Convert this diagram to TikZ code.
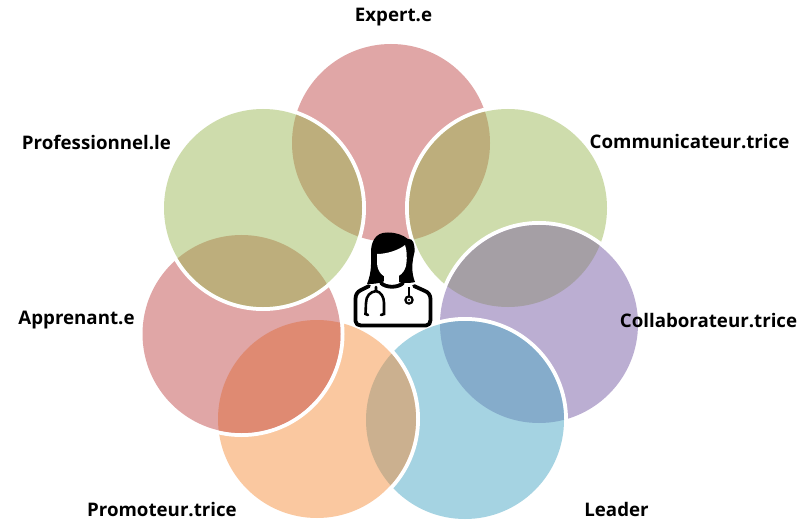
\documentclass[tikz,border=0pt]{standalone}
\usepackage{fontspec}
\setmainfont{Open Sans}
\definecolor{rosec}{HTML}{E0A6A6}
\definecolor{greenc}{HTML}{CEDCAC}
\definecolor{olivec}{HTML}{BDAE7C}
\definecolor{purplec}{HTML}{BBAED2}
\definecolor{greyc}{HTML}{A59FA5}
\definecolor{bluec}{HTML}{A5D3E2}
\definecolor{steelc}{HTML}{85ACCB}
\definecolor{orangec}{HTML}{FAC8A0}
\definecolor{tanc}{HTML}{CBB08F}
\definecolor{salmonc}{HTML}{DF8A72}
\newcommand{\petal}[2]{\fill[white] (#1) circle (103pt); \fill[#2] (#1) circle (99pt);}
\newcommand{\lens}[3]{\begin{scope}\clip (#1) circle (99pt); \fill[#3] (#2) circle (99pt);\end{scope}}
\tikzset{lab/.style={font=\fontsize{18.7}{22}\selectfont\bfseries, text=black, inner sep=0pt},
 icon/.style={black, line width=3.8pt, line cap=round, line join=round}}
\begin{document}
\begin{tikzpicture}[x=1pt,y=-1pt]
\useasboundingbox (0,0) rectangle (800,521);
\fill[white] (0,0) rectangle (800,521);
\coordinate (ex) at (391,143);
\coordinate (co) at (508,208);
\coordinate (cl) at (539,324);
\coordinate (le) at (465,420);
\coordinate (pm) at (317,419);
\coordinate (ap) at (241.5,334);
\coordinate (pr) at (263,208);
% petals, lowest first; each lens is the overlap with the petal below
\petal{ex}{rosec}
\petal{co}{greenc} \lens{co}{ex}{olivec}
\petal{cl}{purplec} \lens{cl}{co}{greyc}
\petal{le}{bluec} \lens{le}{cl}{steelc}
\petal{pm}{orangec} \lens{pm}{le}{tanc}
\petal{ap}{rosec} \lens{ap}{pm}{salmonc}
\petal{pr}{greenc} \lens{pr}{ap}{olivec} \lens{pr}{ex}{olivec}
% clinician icon
\fill[white] (354,288) -- (368,284) -- (415,284) -- (430,290) -- (431,327) -- (355,327) -- cycle;
\fill[black] (388,232.5) .. controls (374,232) and (371,244) .. (371,252)
  .. controls (371,262) and (372,272) .. (367,284)
  .. controls (376,284) and (384,283) .. (388,278)
  .. controls (396,283) and (408,284) .. (415,282)
  .. controls (411,272) and (412,262) .. (414.5,252)
  .. controls (415,244) and (413,238) .. (408,239)
  .. controls (403,235) and (396,232.5) .. (388,232.5) -- cycle;
\fill[white] (377,254) .. controls (387,254) and (399,250) .. (405,245)
  .. controls (407,250) and (407,258) .. (406.5,262)
  .. controls (406,273) and (398,278) .. (391,278)
  .. controls (384,278) and (377,273) .. (377,262) -- cycle;
\fill[white] (384,276) rectangle (399,286);
\draw[icon] (381,283) .. controls (386,288) and (398,288) .. (403,283);
\draw[icon] (369,286) -- (361,290) .. controls (357,292) and (355.5,295) .. (355.5,299)
  -- (355.5,321) .. controls (355.5,324) and (358,325.5) .. (361,325.5)
  -- (426,325.5) .. controls (429,325.5) and (430.5,323) .. (430.5,320)
  -- (430.5,299) .. controls (430.5,295) and (428,292) .. (425,291) -- (414,286);
\draw[black, line width=2.6pt, line cap=round] (376,287) -- (376,291) .. controls (370,292) and (366,296) .. (366,303) -- (365.5,314) -- (368,315);
\draw[black, line width=2.6pt, line cap=round] (376,291) .. controls (381,292) and (384,297) .. (384,303) -- (384,314) -- (381,315);
\draw[black, line width=2pt] (409,287) -- (409,296);
\draw[black, line width=2.2pt, fill=white] (409,300) circle (3.6pt);
\fill[black] (409,300) circle (1.1pt);
% labels
\node[lab] (lex) at (393.5,17) {Expert.e};
\node[lab] (lpr) at (96.5,142) {Professionnel.le};
\node[lab] (lco) at (689.5,141.5) {Communicateur.trice};
\node[lab] (lcl) at (708.5,320.5) {Collaborateur.trice};
\node[lab] (lap) at (76.5,320) {Apprenant.e};
\node[lab] (lpm) at (162,509.5) {Promoteur.trice};
\node[lab] (lle) at (616.5,509.5) {Leader};
\end{tikzpicture}
\end{document}
